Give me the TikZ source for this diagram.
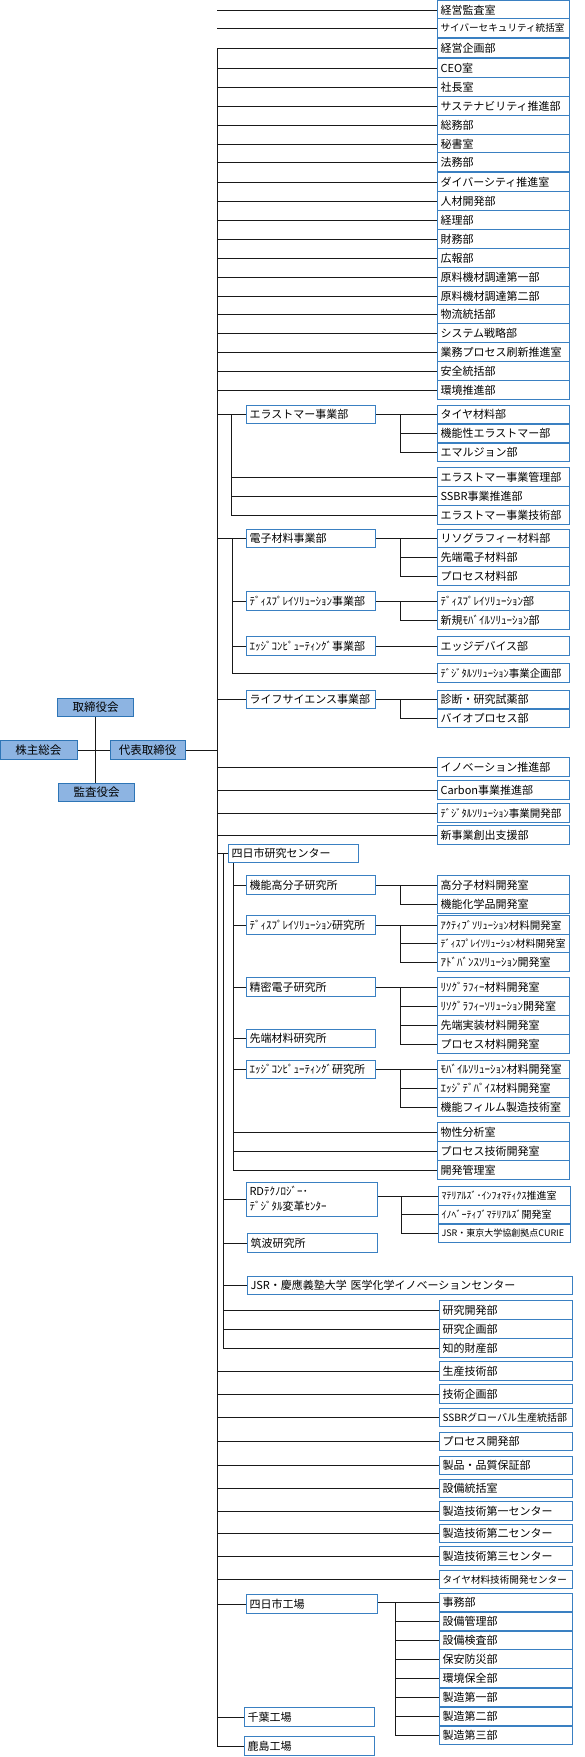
\documentclass[tikz,border=0pt]{standalone}
\usepackage{fontspec}
\setmainfont{Noto Sans CJK JP}
\definecolor{boxblue}{RGB}{58,128,194}
\definecolor{headfill}{RGB}{141,180,226}
\definecolor{headline}{RGB}{46,117,182}
\tikzset{
  box/.style={draw=boxblue, line width=1pt, fill=white, anchor=west, inner xsep=3pt, inner ysep=0pt,
    minimum height=18.5pt, align=left, font=\fontsize{11}{12}\selectfont},
  rbox/.style={box, text width=126pt},
  rboxl/.style={box, text width=127pt},
  mbox/.style={box, text width=123pt},
  hbox/.style={draw=headline, fill=headfill, line width=1pt, minimum height=18.5pt, inner sep=0pt,
    font=\fontsize{11.5}{13}\selectfont},
  conn/.style={draw=black!90, line width=0.9pt},
  md/.style={font=\fontsize{10.5}{12}\selectfont},
  sm/.style={font=\fontsize{10}{12}\selectfont},
  xs/.style={font=\fontsize{9.6}{11}\selectfont},
  xxs/.style={font=\fontsize{9}{11}\selectfont},
}
\begin{document}
\begin{tikzpicture}[x=1pt,y=-1pt]
\useasboundingbox (0,0) rectangle (584,1757);
\fill[white] (0,0) rectangle (584,1757);

% ---- head group
\node[hbox, minimum width=77pt] (kabu) at (38.5,750) {株主総会};
\node[hbox, minimum width=75pt] (daihyo) at (147.5,750) {代表取締役};
\node[hbox, minimum width=76pt] (tori) at (95.5,707.5) {取締役会};
\node[hbox, minimum width=76pt] (kansa) at (96.5,792.5) {監査役会};

% ---- top staff boxes
\node[rbox] (a01) at (437,10) {経営監査室};
\node[rbox,xs] (a02) at (437,28) {サイバーセキュリティ統括室};
\node[rbox] (a03) at (437,48) {経営企画部};
\node[rbox] (a04) at (437,68) {CEO室};
\node[rbox] (a05) at (437,87) {社長室};
\node[rbox] (a06) at (437,106) {サステナビリティ推進部};
\node[rbox] (a07) at (437,125) {総務部};
\node[rbox] (a08) at (437,144) {秘書室};
\node[rbox] (a09) at (437,162) {法務部};
\node[rbox] (a10) at (437,182) {ダイバーシティ推進室};
\node[rbox] (a11) at (437,201) {人材開発部};
\node[rbox] (a12) at (437,220) {経理部};
\node[rbox] (a13) at (437,239) {財務部};
\node[rbox] (a14) at (437,258) {広報部};
\node[rbox] (a15) at (437,277) {原料機材調達第一部};
\node[rbox] (a16) at (437,296) {原料機材調達第二部};
\node[rbox] (a17) at (437,314) {物流統括部};
\node[rbox] (a18) at (437,333) {システム戦略部};
\node[rbox] (a19) at (437,352) {業務プロセス刷新推進室};
\node[rbox] (a20) at (437,371) {安全統括部};
\node[rbox] (a21) at (437,390) {環境推進部};

% ---- elastomer
\node[mbox] (E0) at (246,414.5) {エラストマー事業部};
\node[rbox] (E1) at (437,414.5) {タイヤ材料部};
\node[rbox] (E2) at (437,433.5) {機能性エラストマー部};
\node[rbox] (E3) at (437,452.5) {エマルジョン部};
\node[rbox] (E4) at (437,477) {エラストマー事業管理部};
\node[rbox] (E5) at (437,496) {SSBR事業推進部};
\node[rbox] (E6) at (437,515) {エラストマー事業技術部};

% ---- electronic materials
\node[mbox] (D0) at (246,538.5) {電子材料事業部};
\node[rbox] (D1) at (437,538.5) {リソグラフィー材料部};
\node[rbox] (D2) at (437,557) {先端電子材料部};
\node[rbox] (D3) at (437,576) {プロセス材料部};
\node[mbox] (D4) at (246,601) {ﾃﾞｨｽﾌﾟﾚｲｿﾘｭｰｼｮﾝ事業部};
\node[rbox] (D5) at (437,601) {ﾃﾞｨｽﾌﾟﾚｲｿﾘｭｰｼｮﾝ部};
\node[rbox] (D6) at (437,620) {新規ﾓﾊﾞｲﾙｿﾘｭｰｼｮﾝ部};
\node[mbox] (D7) at (246,646) {ｴｯｼﾞｺﾝﾋﾟｭｰﾃｨﾝｸﾞ事業部};
\node[rbox] (D8) at (437,646) {エッジデバイス部};
\node[rbox,md] (D9) at (437,673) {ﾃﾞｼﾞﾀﾙｿﾘｭｰｼｮﾝ事業企画部};

% ---- life science
\node[mbox] (L0) at (246,699.5) {ライフサイエンス事業部};
\node[rbox] (L1) at (437,699.5) {診断・研究試薬部};
\node[rbox] (L2) at (437,718.5) {バイオプロセス部};

\node[rbox] (innov) at (437,767) {イノベーション推進部};
\node[rbox] (carbon) at (437,790) {Carbon事業推進部};
\node[rbox,md] (digdev) at (437,813) {ﾃﾞｼﾞﾀﾙｿﾘｭｰｼｮﾝ事業開発部};
\node[rbox] (newbiz) at (437,835) {新事業創出支援部};

% ---- research center
\node[box, text width=124pt] (R0) at (228,853.5) {四日市研究センター};
\node[mbox] (R1) at (246,885) {機能高分子研究所};
\node[rbox] (R1a) at (437,885) {高分子材料開発室};
\node[rbox] (R1b) at (437,904) {機能化学品開発室};
\node[mbox] (R2) at (246,925) {ﾃﾞｨｽﾌﾟﾚｲｿﾘｭｰｼｮﾝ研究所};
\node[rbox,md] (R2a) at (437,925) {ｱｸﾃｨﾌﾞｿﾘｭｰｼｮﾝ材料開発室};
\node[rbox,sm] (R2b) at (437,943.5) {ﾃﾞｨｽﾌﾟﾚｲｿﾘｭｰｼｮﾝ材料開発室};
\node[rbox] (R2c) at (437,962) {ｱﾄﾞﾊﾞﾝｽｿﾘｭｰｼｮﾝ開発室};
\node[mbox] (R3) at (246,987) {精密電子研究所};
\node[rbox] (R3a) at (437,987) {ﾘｿｸﾞﾗﾌｨｰ材料開発室};
\node[rbox] (R3b) at (437,1006) {ﾘｿｸﾞﾗﾌｨｰｿﾘｭｰｼｮﾝ開発室};
\node[rbox] (R3c) at (437,1025) {先端実装材料開発室};
\node[rbox] (R3d) at (437,1044) {プロセス材料開発室};
\node[mbox] (R4) at (246,1038.5) {先端材料研究所};
\node[mbox] (R5) at (246,1069.5) {ｴｯｼﾞｺﾝﾋﾟｭｰﾃｨﾝｸﾞ研究所};
\node[rbox] (R5a) at (437,1069.5) {ﾓﾊﾞｲﾙｿﾘｭｰｼｮﾝ材料開発室};
\node[rbox] (R5b) at (437,1088) {ｴｯｼﾞﾃﾞﾊﾞｲｽ材料開発室};
\node[rbox] (R5c) at (437,1107) {機能フィルム製造技術室};
\node[rbox] (R6) at (437,1132) {物性分析室};
\node[rbox] (R7) at (437,1151) {プロセス技術開発室};
\node[rbox] (R8) at (437,1170) {開発管理室};
\node[box, text width=125pt, minimum height=34pt, font=\fontsize{11}{15}\selectfont] (R9) at (246,1199) {RDﾃｸﾉﾛｼﾞｰ･\\ﾃﾞｼﾞﾀﾙ変革ｾﾝﾀｰ};
\node[rbox,sm] (R9a) at (438,1196) {ﾏﾃﾘｱﾙｽﾞ･ｲﾝﾌｫﾏﾃｨｸｽ推進室};
\node[rbox,sm] (R9b) at (438,1214.5) {ｲﾉﾍﾞｰﾃｨﾌﾞﾏﾃﾘｱﾙｽﾞ開発室};
\node[rbox,xxs] (R9c) at (438,1233.5) {JSR・東京大学協創拠点CURIE};
\node[box, text width=124pt] (R10) at (247,1243) {筑波研究所};
\node[box, text width=319pt] (R11) at (247,1285.5) {JSR・慶應義塾大学 医学化学イノベーションセンター};
\node[rboxl] (R12) at (439,1310) {研究開発部};
\node[rboxl] (R13) at (439,1329) {研究企画部};
\node[rboxl] (R14) at (439,1348) {知的財産部};

% ---- production
\node[rboxl] (prodtech) at (439,1371) {生産技術部};
\node[rboxl] (techplan) at (439,1394) {技術企画部};
\node[rboxl,sm] (ssbrg) at (439,1417.5) {SSBRグローバル生産統括部};
\node[rboxl] (procdev) at (439,1441.5) {プロセス開発部};
\node[rboxl] (quality) at (439,1465.5) {製品・品質保証部};
\node[rboxl] (equip) at (439,1488.5) {設備統括室};
\node[rboxl] (mfgA) at (439,1511) {製造技術第一センター};
\node[rboxl] (mfgB) at (439,1533.5) {製造技術第二センター};
\node[rboxl] (mfgC) at (439,1556) {製造技術第三センター};
\node[rboxl,xs] (tiretech) at (439,1579.5) {タイヤ材料技術開発センター};
\node[box, text width=125pt] (F0) at (246,1604) {四日市工場};
\node[rboxl] (F1) at (439,1602.5) {事務部};
\node[rboxl] (F2) at (439,1621.5) {設備管理部};
\node[rboxl] (F3) at (439,1640.5) {設備検査部};
\node[rboxl] (F4) at (439,1659) {保安防災部};
\node[rboxl] (F5) at (439,1678) {環境保全部};
\node[rboxl] (F6) at (439,1697.5) {製造第一部};
\node[rboxl] (F7) at (439,1716.5) {製造第二部};
\node[rboxl] (F8) at (439,1735.5) {製造第三部};
\node[box, text width=124pt] (F9) at (244,1717) {千葉工場};
\node[box, text width=124pt] (F10) at (244,1746) {鹿島工場};

% ---- connectors
\coordinate (T) at (217,48);
\coordinate (Sx) at (400,0);
\coordinate (Se) at (231,0);
\coordinate (Sd) at (232,0);
\coordinate (Sr1) at (223,0);
\coordinate (Sr2) at (233,0);
\coordinate (Sx2) at (401,0);
\coordinate (Sf) at (395,0);

\draw[conn] (kabu.east) -- (daihyo.west);
\draw[conn] (tori.south) -- (tori.south |- kansa.north);
\draw[conn] (daihyo.east) -- (daihyo.east -| T);
\draw[conn] (T) -- (T |- F10.west);
\foreach \n in {a01,a02,a03,a04,a05,a06,a07,a08,a09,a10,a11,a12,a13,a14,a15,a16,a17,a18,a19,a20,a21,
  E0,D0,L0,innov,carbon,digdev,newbiz,R0,prodtech,techplan,ssbrg,procdev,quality,equip,mfgA,mfgB,mfgC,tiretech,F0,F9,F10}
  \draw[conn] (\n.west -| T) -- (\n.west);

% elastomer
\draw[conn] (E0.west -| Se) -- (E6.west -| Se);
\foreach \n in {E4,E5,E6} \draw[conn] (\n.west -| Se) -- (\n.west);
\draw[conn] (E1.west -| E0.east) -- (E1.west);
\draw[conn] (E1.west -| Sx) -- (E3.west -| Sx);
\foreach \n in {E2,E3} \draw[conn] (\n.west -| Sx) -- (\n.west);

% electronic
\draw[conn] (D0.west -| Sd) -- (D9.west -| Sd);
\foreach \n in {D4,D7,D9} \draw[conn] (\n.west -| Sd) -- (\n.west);
\draw[conn] (D1.west -| D0.east) -- (D1.west);
\draw[conn] (D1.west -| Sx) -- (D3.west -| Sx);
\foreach \n in {D2,D3} \draw[conn] (\n.west -| Sx) -- (\n.west);
\draw[conn] (D5.west -| D4.east) -- (D5.west);
\draw[conn] (D5.west -| Sx) -- (D6.west -| Sx) -- (D6.west);
\draw[conn] (D8.west -| D7.east) -- (D8.west);

% life science
\draw[conn] (L1.west -| L0.east) -- (L1.west);
\draw[conn] (L1.west -| Sx) -- (L2.west -| Sx) -- (L2.west);

% research
\draw[conn] (R0.west -| Sr1) -- (R14.west -| Sr1);
\draw[conn] (R0.south -| Sr2) -- (R8.west -| Sr2);
\foreach \n in {R1,R2,R3,R4,R5,R6,R7,R8} \draw[conn] (\n.west -| Sr2) -- (\n.west);
\foreach \n in {R9,R10,R11,R12,R13,R14} \draw[conn] (\n.west -| Sr1) -- (\n.west);
\draw[conn] (R1a.west -| R1.east) -- (R1a.west);
\draw[conn] (R1a.west -| Sx) -- (R1b.west -| Sx) -- (R1b.west);
\draw[conn] (R2a.west -| R2.east) -- (R2a.west);
\draw[conn] (R2a.west -| Sx) -- (R2c.west -| Sx);
\foreach \n in {R2b,R2c} \draw[conn] (\n.west -| Sx) -- (\n.west);
\draw[conn] (R3a.west -| R3.east) -- (R3a.west);
\draw[conn] (R3a.west -| Sx) -- (R3d.west -| Sx);
\foreach \n in {R3b,R3c,R3d} \draw[conn] (\n.west -| Sx) -- (\n.west);
\draw[conn] (R5a.west -| R5.east) -- (R5a.west);
\draw[conn] (R5a.west -| Sx) -- (R5c.west -| Sx);
\foreach \n in {R5b,R5c} \draw[conn] (\n.west -| Sx) -- (\n.west);
\draw[conn] (R9a.west -| R9.east) -- (R9a.west);
\draw[conn] (R9a.west -| Sx2) -- (R9c.west -| Sx2);
\foreach \n in {R9b,R9c} \draw[conn] (\n.west -| Sx2) -- (\n.west);

% factory
\draw[conn] (F1.west -| F0.east) -- (F1.west);
\draw[conn] (F1.west -| Sf) -- (F8.west -| Sf);
\foreach \n in {F2,F3,F4,F5,F6,F7,F8} \draw[conn] (\n.west -| Sf) -- (\n.west);
\end{tikzpicture}
\end{document}
